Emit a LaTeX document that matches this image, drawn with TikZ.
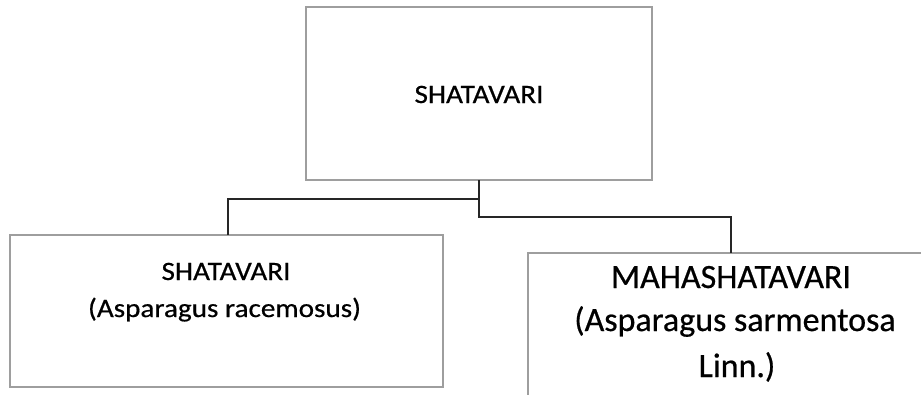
\documentclass[tikz,border=0pt]{standalone}
\usepackage{fontspec}
\setmainfont{Carlito}[FakeBold=0.6]
\newfontfamily\wideCal{Carlito}[FakeStretch=1.1,FakeBold=0.6]
\newfontfamily\bigCal{Carlito}[FakeBold=0.6]
\begin{document}
\begin{tikzpicture}[x=1pt,y=-1pt,
  box/.style={draw=black!38, line width=1.6pt, inner sep=0pt, outer sep=0pt, fill=white},
  link/.style={draw=black!85, line width=1.3pt},
  smalltxt/.style={font=\wideCal\fontsize{26.5}{30}\selectfont, text=black, anchor=base, inner sep=0pt},
  bigtxt/.style={font=\bigCal\fontsize{34}{40}\selectfont, text=black, anchor=base, inner sep=0pt}]
\useasboundingbox (0,0) rectangle (921,394);
\clip (0,0) rectangle (921,394);
% boxes
\node[box, minimum width=346pt, minimum height=173pt] (top) at (479,93.5) {};
\node[box, minimum width=433pt, minimum height=152pt] (left) at (226.5,311) {};
\node[box, minimum width=406pt, minimum height=180pt] (right) at (731,343) {};
% connectors
\coordinate (jl) at (479,199);
\coordinate (jr) at (479,217);
\draw[link] (top.south) -- (jl) -| ([xshift=1.5pt]left.north);
\draw[link] (jl) -- (jr) -| (right.north);
% texts
\node[smalltxt] (t1) at (479,103) {SHATAVARI};
\node[smalltxt] (l1) at (226,280) {SHATAVARI};
\node[smalltxt] (l2) at (224.5,317) {(Asparagus racemosus)};
\node[bigtxt] (r1) at (731,288) {MAHASHATAVARI};
\node[bigtxt] (r2) at (735,331) {(Asparagus sarmentosa};
\node[bigtxt] (r3) at (737,377) {Linn.)};
\end{tikzpicture}
\end{document}
